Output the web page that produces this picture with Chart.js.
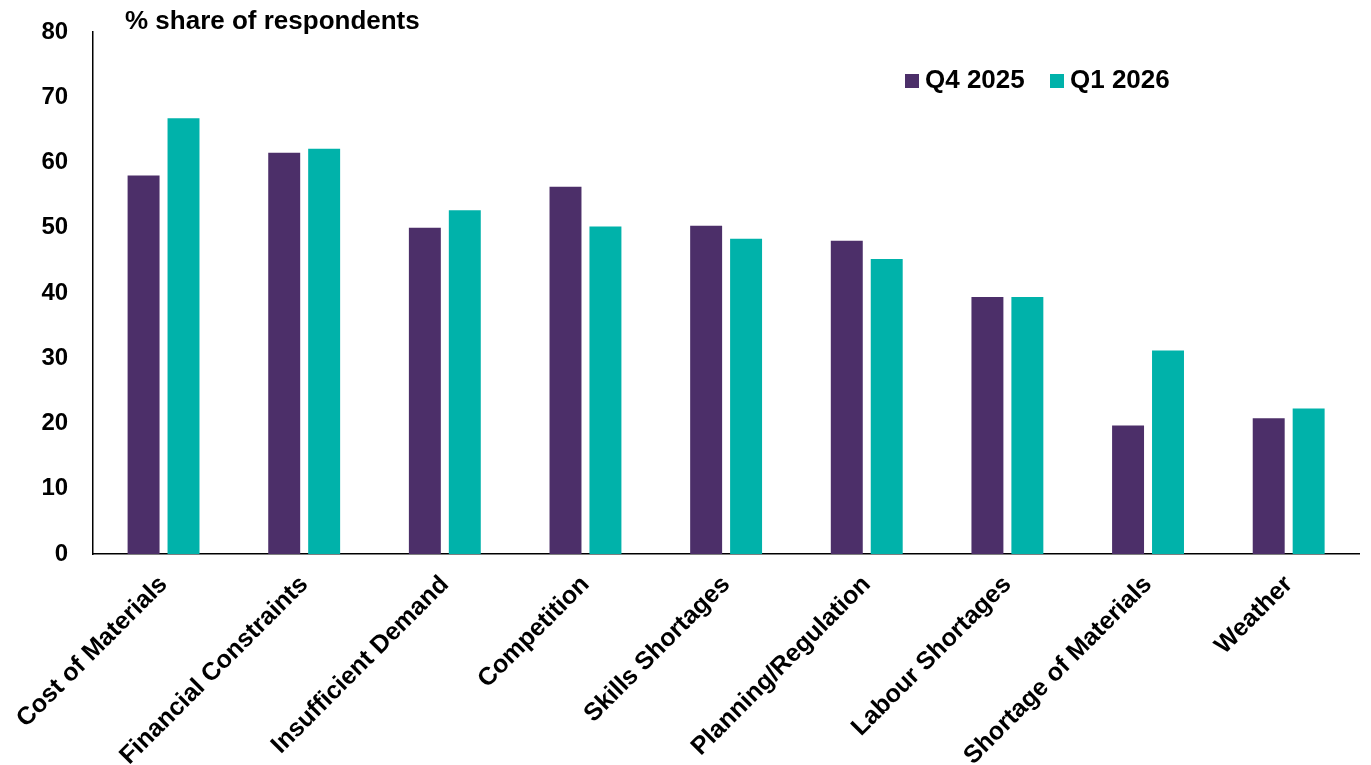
<!DOCTYPE html>
<html>
<head>
<meta charset="utf-8">
<script src="https://cdn.jsdelivr.net/npm/chart.js@4.4.1/dist/chart.umd.min.js"></script>
<style>
    html, body { margin: 0; padding: 0; background: #fff; }
    #wrap { width: 1371px; height: 765px; }
</style>
</head>
<body>
<div id="wrap"><canvas id="barChart" width="1371" height="765"></canvas></div>
<script>
// Kategorien und Werte (% share of respondents)
const categories = [
    'Cost of Materials', 'Financial Constraints', 'Insufficient Demand',
    'Competition', 'Skills Shortages', 'Planning/Regulation',
    'Labour Shortages', 'Shortage of Materials', 'Weather'
];
const q4_2025 = [58.0, 61.5, 50.0, 56.3, 50.3, 48.0, 39.4, 19.7, 20.8];
const q1_2026 = [66.8, 62.1, 52.7, 50.2, 48.3, 45.2, 39.4, 31.2, 22.3];
const seriesLabels = ['Q4 2025', 'Q1 2026'];
const yTicks = [0, 10, 20, 30, 40, 50, 60, 70, 80];

const FONT = '"Liberation Sans", Arial, sans-serif';

// Titel und Legende selbst zeichnen
const headerPlugin = {
    id: 'header',
    afterDraw(chart) {
        const ctx = chart.ctx;
        ctx.save();
        ctx.fillStyle = '#000';
        ctx.font = 'bold 26px ' + FONT;
        ctx.textBaseline = 'middle';
        ctx.textAlign = 'left';
        ctx.fillText('% share of respondents', 125, 22);

        let x = 905;
        chart.data.datasets.forEach(ds => {
            ctx.fillStyle = ds.backgroundColor;
            ctx.fillRect(x, 74, 14, 14);
            ctx.fillStyle = '#000';
            ctx.fillText(ds.label, x + 20, 81);
            x += 145;
        });
        ctx.restore();
    }
};

const chart = new Chart(document.getElementById('barChart'), {
    type: 'bar',
    data: {
        labels: categories,
        datasets: [
            {
                label: seriesLabels[0],
                data: q4_2025,
                backgroundColor: '#4c2f69',
                categoryPercentage: 0.568,
                barPercentage: 0.8
            },
            {
                label: seriesLabels[1],
                data: q1_2026,
                backgroundColor: '#00b2aa',
                categoryPercentage: 0.568,
                barPercentage: 0.8
            }
        ]
    },
    options: {
        responsive: false,
        animation: false,
        layout: { padding: { top: 32, right: 12, left: 0, bottom: 0 } },
        plugins: {
            legend: { display: false },
            tooltip: { enabled: false }
        },
        scales: {
            x: {
                grid: { display: false, drawTicks: false },
                border: { display: true, color: '#000', width: 1.5 },
                ticks: {
                    color: '#000',
                    font: { family: FONT, size: 25, weight: 'bold' },
                    maxRotation: 45,
                    minRotation: 45,
                    autoSkip: false,
                    padding: 16
                },
                afterFit(scale) { scale.height = 211; }
            },
            y: {
                min: 0,
                max: 80,
                afterBuildTicks(scale) { scale.ticks = yTicks.map(v => ({ value: v })); },
                grid: { display: false, drawTicks: false },
                border: { display: true, color: '#000', width: 1.5 },
                ticks: {
                    color: '#000',
                    font: { family: FONT, size: 24, weight: 'bold' },
                    padding: 25
                },
                // feste Breite, kein Zusatzabstand oben/unten
                afterFit(scale) {
                    scale.width = 92;
                    scale.paddingTop = 0;
                    scale.paddingBottom = 0;
                }
            }
        }
    },
    plugins: [headerPlugin]
});
</script>
</body>
</html>
